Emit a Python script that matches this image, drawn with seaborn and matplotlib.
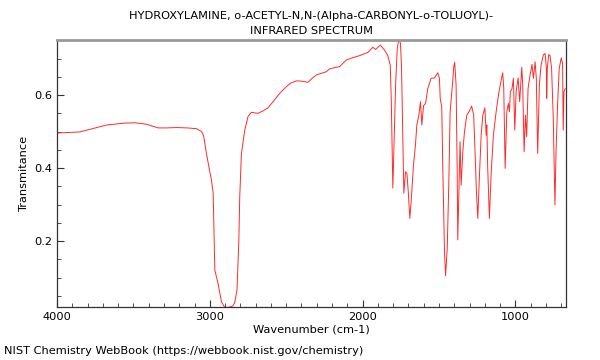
import pandas as pd
import seaborn as sns
import matplotlib.pyplot as plt
from matplotlib.ticker import MultipleLocator

# Wavenumber (cm-1) and transmittance
wavenumber = [
    4000, 3850, 3750, 3675, 3560, 3490, 3414, 3338, 3280, 3218, 3150, 3087, 3054, 3040,
    3022, 3000, 2989, 2978, 2967, 2946, 2924, 2905, 2880, 2850, 2837, 2822, 2810, 2804,
    2793, 2771, 2750, 2728, 2705, 2684, 2650, 2619, 2580, 2542, 2499, 2470, 2433, 2395,
    2357, 2330, 2303, 2237, 2216, 2150, 2107, 2060, 2020, 1965, 1933, 1915, 1884, 1856,
    1835, 1819, 1812, 1802, 1793, 1784, 1773, 1763, 1752, 1745, 1737, 1730, 1719, 1710,
    1701, 1691, 1682, 1667, 1654, 1645, 1632, 1621, 1612, 1601, 1588, 1573, 1551, 1529,
    1508, 1497, 1492, 1482, 1475, 1464, 1457, 1446, 1436, 1427, 1414, 1403, 1397, 1388,
    1381, 1377, 1371, 1362, 1355, 1344, 1333, 1318, 1301, 1286, 1273, 1264, 1255, 1246,
    1235, 1224, 1213, 1200, 1191, 1187, 1181, 1170, 1159, 1144, 1126, 1109, 1093, 1083,
    1076, 1067, 1056, 1046, 1039, 1033, 1022, 1013, 1004, 995, 982, 972, 958, 952,
    943, 934, 926, 917, 904, 891, 882, 871, 863, 854, 843, 832, 817, 806,
    797, 795, 791, 782, 773, 763, 752, 741, 734, 723, 713, 700, 691, 687,
    682, 674,
]
transmittance = [
    0.496, 0.499, 0.510, 0.518, 0.523, 0.524, 0.520, 0.510, 0.510, 0.511, 0.510, 0.508, 0.500, 0.488,
    0.440, 0.390, 0.367, 0.331, 0.120, 0.084, 0.034, 0.020, 0.018, 0.022, 0.031, 0.066, 0.200, 0.321,
    0.440, 0.504, 0.541, 0.553, 0.551, 0.550, 0.557, 0.565, 0.585, 0.605, 0.623, 0.633, 0.639, 0.638,
    0.635, 0.646, 0.655, 0.664, 0.672, 0.678, 0.696, 0.703, 0.708, 0.717, 0.731, 0.725, 0.737, 0.723,
    0.708, 0.682, 0.582, 0.345, 0.490, 0.627, 0.728, 0.752, 0.742, 0.673, 0.490, 0.331, 0.390, 0.385,
    0.335, 0.262, 0.308, 0.408, 0.463, 0.518, 0.545, 0.582, 0.518, 0.571, 0.577, 0.618, 0.646, 0.647,
    0.661, 0.646, 0.591, 0.568, 0.399, 0.171, 0.105, 0.180, 0.353, 0.554, 0.618, 0.678, 0.690, 0.627,
    0.399, 0.203, 0.308, 0.472, 0.353, 0.445, 0.500, 0.545, 0.556, 0.570, 0.545, 0.445, 0.335, 0.262,
    0.381, 0.490, 0.545, 0.565, 0.490, 0.518, 0.399, 0.262, 0.381, 0.490, 0.554, 0.605, 0.641, 0.661,
    0.618, 0.399, 0.554, 0.577, 0.554, 0.609, 0.618, 0.646, 0.504, 0.609, 0.647, 0.582, 0.676, 0.627,
    0.445, 0.545, 0.486, 0.618, 0.655, 0.684, 0.646, 0.691, 0.646, 0.440, 0.627, 0.682, 0.710, 0.714,
    0.673, 0.591, 0.673, 0.711, 0.708, 0.673, 0.536, 0.299, 0.445, 0.582, 0.673, 0.702, 0.687, 0.504,
    0.609, 0.618,
]

title_text = "HYDROXYLAMINE, o-ACETYL-N,N-(Alpha-CARBONYL-o-TOLUOYL)-\nINFRARED SPECTRUM"
footer_text = "NIST Chemistry WebBook (https://webbook.nist.gov/chemistry)"

df = pd.DataFrame({"wavenumber": wavenumber, "transmittance": transmittance})

sns.set_style("ticks")
plt.rcParams["font.family"] = ["DejaVu Sans"]
plt.rcParams["text.color"] = "black"
plt.rcParams["axes.labelcolor"] = "black"
plt.rcParams["xtick.labelcolor"] = "black"
plt.rcParams["ytick.labelcolor"] = "black"

fig = plt.figure(figsize=(6, 3.6), dpi=100)
ax = fig.add_axes([0.095, 0.147, 0.848, 0.742])

sns.lineplot(data=df, x="wavenumber", y="transmittance", ax=ax,
             color="#ff2a2a", linewidth=0.7, estimator=None, sort=False)

ax.set_xlim(4000, 670)
ax.set_ylim(0.019, 0.751)
ax.set_xticks([4000, 3000, 2000, 1000])
ax.xaxis.set_minor_locator(MultipleLocator(100))
ax.set_yticks([0.2, 0.4, 0.6])
ax.yaxis.set_minor_locator(MultipleLocator(0.05))
ax.tick_params(which="both", direction="in", labelsize=8.2, color="#333333",
               labelcolor="black")
ax.tick_params(which="major", length=5)
ax.tick_params(which="minor", length=3)

for side in ["left", "bottom", "right"]:
    ax.spines[side].set_color("#333333")
    ax.spines[side].set_linewidth(0.9)
ax.spines["top"].set_color("#999999")
ax.spines["top"].set_linewidth(2)
ax.spines["right"].set_visible(True)
ax.spines["top"].set_visible(True)

ax.set_xlabel("Wavenumber (cm-1)", fontsize=8.2, labelpad=2, color="black")
ax.set_ylabel("Transmitance", fontsize=8.2, color="black")
ax.set_title(title_text, fontsize=8.2, pad=4, linespacing=1.65, color="black")
fig.text(0.007, 0.016, footer_text, fontsize=8.2, color="black")

fig.savefig("out.png", dpi=100)
